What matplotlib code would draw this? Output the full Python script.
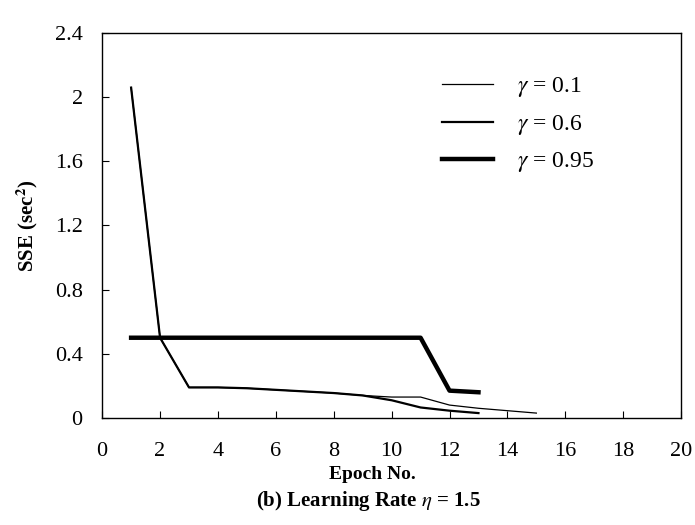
import matplotlib
matplotlib.use("Agg")
import matplotlib.pyplot as plt

plt.rcParams['font.family'] = ['Liberation Serif', 'DejaVu Serif']
plt.rcParams['mathtext.fontset'] = 'stix'

# SSE per epoch for each momentum value
epochs_01 = [1, 2, 3, 4, 5, 6, 7, 8, 9, 10, 11, 12, 13, 14, 15]
sse_01 = [2.06, 0.5, 0.19, 0.19, 0.185, 0.175, 0.165, 0.155, 0.14, 0.13, 0.13, 0.08, 0.06, 0.045, 0.03]

epochs_06 = [1, 2, 3, 4, 5, 6, 7, 8, 9, 10, 11, 12, 13]
sse_06 = [2.06, 0.5, 0.19, 0.19, 0.185, 0.175, 0.165, 0.155, 0.14, 0.11, 0.065, 0.045, 0.03]

epochs_095 = [1, 2, 3, 4, 5, 6, 7, 8, 9, 10, 11, 12, 13]
sse_095 = [0.5, 0.5, 0.5, 0.5, 0.5, 0.5, 0.5, 0.5, 0.5, 0.5, 0.5, 0.17, 0.16]

labels = [r'$\gamma$ = 0.1', r'$\gamma$ = 0.6', r'$\gamma$ = 0.95']

fig = plt.figure(figsize=(6.95, 5.25), dpi=100)
ax = fig.add_axes([0.147, 0.204, 0.833, 0.733])

ax.plot(epochs_01, sse_01, color='black', lw=0.9, label=labels[0])
ax.plot(epochs_06, sse_06, color='black', lw=1.6, label=labels[1])
ax.plot(epochs_095, sse_095, color='black', lw=3.2, label=labels[2])

ax.set_xlim(0, 20)
ax.set_ylim(0, 2.4)
ax.set_xticks(range(0, 21, 2))
ax.set_yticks([0, 0.4, 0.8, 1.2, 1.6, 2, 2.4])
ax.set_yticklabels(['0', '0.4', '0.8', '1.2', '1.6', '2', '2.4'])
ax.tick_params(direction='in', length=5, width=0.8, labelsize=16)
ax.tick_params(axis='x', pad=17)
ax.tick_params(axis='y', pad=14)
for s in ax.spines.values():
    s.set_linewidth(1.0)

ax.set_ylabel(r'SSE (sec$^{\mathbf{2}}$)', fontsize=15, fontweight='bold')
ax.yaxis.set_label_coords(-0.108, 0.5)
ax.set_xlabel('Epoch No.', fontsize=14, fontweight='bold')
ax.xaxis.set_label_coords(0.466, -0.125)
fig.text(0.53, 0.045, r'(b) Learning Rate $\eta$ = 1.5', ha='center', va='center',
         fontsize=15, fontweight='bold')

ax.legend(loc='upper left', bbox_to_anchor=(0.606, 0.897), bbox_transform=fig.transFigure,
          frameon=False, fontsize=17, handlelength=2.15, handletextpad=1.0, labelspacing=0.57)

fig.savefig('out.png', dpi=100)
